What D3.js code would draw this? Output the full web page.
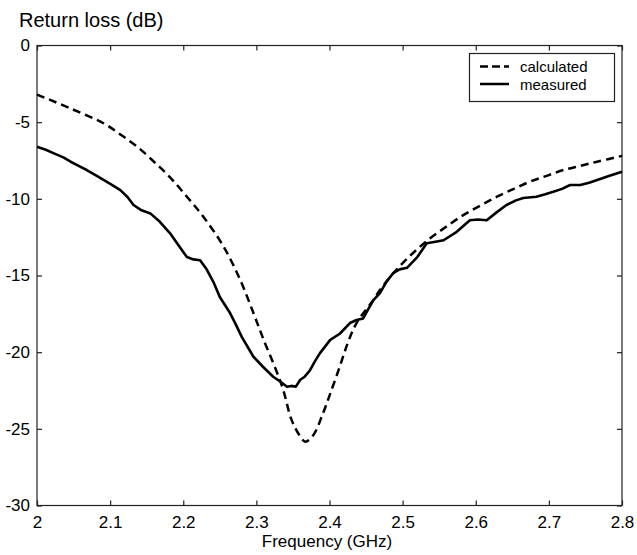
<!DOCTYPE html>
<html><head><meta charset="utf-8">
<script src="https://cdn.jsdelivr.net/npm/d3@7"></script>
<style>body{margin:0;background:#fff}svg{display:block}text{font-family:"Liberation Sans",Arial,sans-serif;fill:#000}</style>
</head><body><svg id="c" width="637" height="555"></svg>
<script>
const xTicks = [2, 2.1, 2.2, 2.3, 2.4, 2.5, 2.6, 2.7, 2.8];
const yTicks = [0, -5, -10, -15, -20, -25, -30];
const seriesNames = ["calculated", "measured"];
const calcFreq = [2.0, 2.0456, 2.091, 2.114, 2.137, 2.16, 2.182, 2.205, 2.228, 2.255, 2.278, 2.296, 2.31, 2.328, 2.337, 2.348, 2.36, 2.367, 2.378, 2.391, 2.401, 2.414, 2.425, 2.437, 2.46, 2.469, 2.492, 2.515, 2.538, 2.56, 2.583, 2.606, 2.629, 2.652, 2.674, 2.697, 2.72, 2.743, 2.766, 2.8];
const calcDB = [-3.2, -4.1, -5.07, -5.8, -6.6, -7.58, -8.6, -9.86, -11.2, -13.1, -15.3, -17.45, -19.2, -21.3, -22.5, -24.4, -25.5, -25.84, -25.4, -24.0, -22.7, -20.95, -19.4, -18.1, -16.6, -15.95, -14.6, -13.5, -12.56, -11.8, -11.06, -10.45, -9.86, -9.35, -8.88, -8.5, -8.12, -7.85, -7.58, -7.2];
const measFreq = [2.0, 2.012, 2.024, 2.036, 2.046, 2.057, 2.068, 2.08, 2.091, 2.103, 2.114, 2.124, 2.132, 2.143, 2.155, 2.168, 2.182, 2.193, 2.205, 2.214, 2.223, 2.232, 2.242, 2.25, 2.264, 2.272, 2.28, 2.296, 2.309, 2.323, 2.332, 2.342, 2.348, 2.354, 2.36, 2.366, 2.373, 2.38, 2.387, 2.401, 2.414, 2.428, 2.437, 2.446, 2.453, 2.46, 2.469, 2.478, 2.487, 2.496, 2.506, 2.52, 2.533, 2.545, 2.556, 2.574, 2.592, 2.603, 2.615, 2.628, 2.642, 2.655, 2.665, 2.683, 2.695, 2.706, 2.718, 2.729, 2.743, 2.755, 2.766, 2.783, 2.8];
const measDB = [-6.6, -6.8, -7.05, -7.3, -7.58, -7.85, -8.12, -8.45, -8.77, -9.1, -9.43, -9.9, -10.4, -10.75, -10.95, -11.5, -12.25, -13.0, -13.8, -13.95, -14.0, -14.6, -15.5, -16.4, -17.45, -18.2, -19.0, -20.3, -20.95, -21.6, -21.9, -22.26, -22.2, -22.25, -21.8, -21.6, -21.2, -20.6, -20.06, -19.2, -18.8, -18.1, -17.9, -17.8, -17.2, -16.6, -16.15, -15.4, -14.85, -14.6, -14.5, -13.8, -12.9, -12.8, -12.7, -12.15, -11.4, -11.35, -11.4, -10.9, -10.4, -10.1, -9.95, -9.86, -9.7, -9.54, -9.35, -9.1, -9.1, -8.95, -8.77, -8.5, -8.23];

const svg = d3.select("#c");
const L = 37, R = 622, T = 45.5, B = 505.5;
const x = d3.scaleLinear().domain([2, 2.8]).range([L, R]);
const y = d3.scaleLinear().domain([-30, 0]).range([B, T]);
const tl = 5;
const fmt = d => String(d);

svg.append("rect").attr("x", L).attr("y", T).attr("width", R - L).attr("height", B - T)
  .attr("fill", "none").attr("stroke", "#222").attr("stroke-width", 1.2);

const xa = svg.append("g").attr("transform", `translate(0,${B})`)
  .call(d3.axisBottom(x).tickValues(xTicks).tickSize(-tl).tickPadding(10).tickFormat(fmt));
const xt = svg.append("g").attr("transform", `translate(0,${T})`)
  .call(d3.axisTop(x).tickValues(xTicks).tickSize(-tl).tickFormat(""));
const ya = svg.append("g").attr("transform", `translate(${L},0)`)
  .call(d3.axisLeft(y).tickValues(yTicks).tickSize(-tl).tickPadding(7).tickFormat(fmt));
const yr = svg.append("g").attr("transform", `translate(${R},0)`)
  .call(d3.axisRight(y).tickValues(yTicks).tickSize(-tl).tickFormat(""));
[xa, xt, ya, yr].forEach(g => {
  g.select(".domain").remove();
  g.selectAll(".tick line").attr("stroke", "#222").attr("stroke-width", 1.2);
  g.selectAll(".tick text").attr("font-size", 17).attr("font-family", "Liberation Sans, Arial, sans-serif").attr("fill", "#000");
});

const line = d3.line().x(d => x(d[0])).y(d => y(d[1])).curve(d3.curveCatmullRom.alpha(0.5));
const calc = calcFreq.map((f, i) => [f, calcDB[i]]);
const meas = measFreq.map((f, i) => [f, measDB[i]]);
svg.append("path").datum(calc).attr("d", line).attr("fill", "none").attr("stroke", "#000")
  .attr("stroke-width", 2.5).attr("stroke-dasharray", "8,5");
svg.append("path").datum(meas).attr("d", d3.line().x(d => x(d[0])).y(d => y(d[1])))
  .attr("fill", "none").attr("stroke", "#000").attr("stroke-width", 2.6).attr("stroke-linejoin", "round");

const lg = svg.append("g");
lg.append("rect").attr("x", 469.5).attr("y", 53.5).attr("width", 145).attr("height", 48)
  .attr("fill", "#fff").attr("stroke", "#222").attr("stroke-width", 1.2);
const styles = [{dash: "8,4"}, {dash: null}];
seriesNames.forEach((n, i) => {
  const yy = 66.5 + i * 17.5;
  lg.append("line").attr("x1", 480).attr("x2", 509).attr("y1", yy).attr("y2", yy)
    .attr("stroke", "#000").attr("stroke-width", 2.5).attr("stroke-dasharray", styles[i].dash);
  lg.append("text").attr("x", 520).attr("y", yy + 5.5).attr("font-size", 15).text(n);
});

svg.append("text").attr("x", 19).attr("y", 27).attr("font-size", 20).text("Return loss (dB)");
svg.append("text").attr("x", 327).attr("y", 547).attr("font-size", 17).attr("text-anchor", "middle").text("Frequency (GHz)");
</script></body></html>
